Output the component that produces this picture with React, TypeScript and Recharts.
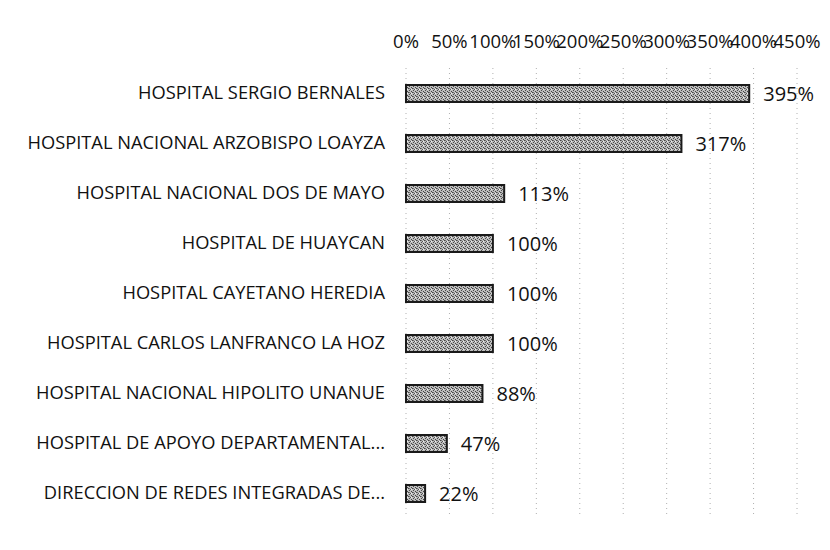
import React from "react";
import { BarChart, Bar, XAxis, YAxis, CartesianGrid, LabelList } from "recharts";

const categories = [
  "HOSPITAL SERGIO BERNALES",
  "HOSPITAL NACIONAL ARZOBISPO LOAYZA",
  "HOSPITAL NACIONAL DOS DE MAYO",
  "HOSPITAL DE HUAYCAN",
  "HOSPITAL CAYETANO HEREDIA",
  "HOSPITAL CARLOS LANFRANCO LA HOZ",
  "HOSPITAL NACIONAL HIPOLITO UNANUE",
  "HOSPITAL DE APOYO DEPARTAMENTAL...",
  "DIRECCION DE REDES INTEGRADAS DE...",
];
const values = [3.95, 3.17, 1.13, 1.0, 1.0, 1.0, 0.88, 0.47, 0.22];
const ticks = [0, 0.5, 1, 1.5, 2, 2.5, 3, 3.5, 4, 4.5];

const data = categories.map((name, i) => ({ name, value: values[i] }));
const pct = (v: number) => `${Math.round(v * 100)}%`;
const font = "Open Sans, sans-serif";

export default function App() {
  return (
    <BarChart
      width={822}
      height={542}
      data={data}
      layout="vertical"
      margin={{ top: 30, right: 33, bottom: 32, left: 0 }}
      barCategoryGap={33}
    >
      <defs>
        <pattern id="stip" width="4" height="4" patternUnits="userSpaceOnUse">
          <rect width="4" height="4" fill="#bdbdbd" />
          <rect x="0" y="0" width="1" height="1" fill="#444" />
          <rect x="2" y="1" width="1" height="1" fill="#555" />
          <rect x="1" y="2" width="1" height="1" fill="#4a4a4a" />
          <rect x="3" y="3" width="1" height="1" fill="#444" />
          <rect x="3" y="1" width="1" height="1" fill="#eee" />
          <rect x="1" y="0" width="1" height="1" fill="#777" />
        </pattern>
      </defs>
      <CartesianGrid horizontal={false} stroke="#b0b0b0" strokeDasharray="1 4" />
      <XAxis
        type="number"
        orientation="top"
        domain={[0, 4.5]}
        ticks={ticks}
        tickFormatter={pct}
        axisLine={false}
        tickLine={false}
        interval={0}
        tickMargin={14}
        tick={{ fontFamily: font, fontSize: 18.5, fill: "#111" }}
      />
      <YAxis
        type="category"
        dataKey="name"
        width={398}
        axisLine={false}
        tickLine={false}
        tickMargin={15}
        tick={{ fontFamily: font, fontSize: 18.3, fill: "#111" }}
      />
      <Bar dataKey="value" fill="url(#stip)" stroke="#1a1a1a" strokeWidth={2} barSize={17} isAnimationActive={false}>
        <LabelList
          dataKey="value"
          position="right"
          offset={14}
          formatter={(v: any) => pct(Number(v))}
          style={{ fontFamily: font, fontSize: 20, fill: "#111" }}
        />
      </Bar>
    </BarChart>
  );
}
